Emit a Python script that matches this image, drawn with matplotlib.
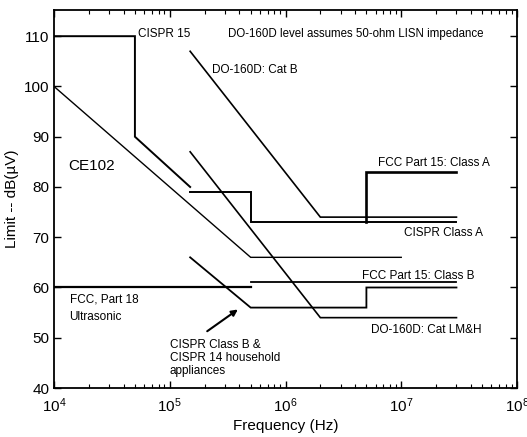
import matplotlib
matplotlib.use("Agg")
import matplotlib.pyplot as plt
from matplotlib.ticker import LogLocator, NullFormatter, FixedLocator

plt.rcParams['font.family'] = ['Liberation Sans', 'DejaVu Sans']
plt.rcParams['mathtext.fontset'] = 'custom'
plt.rcParams['mathtext.rm'] = 'Liberation Sans'
plt.rcParams['mathtext.it'] = 'Liberation Sans'

# ---- data (frequency in Hz, limit in dB(uV)) ----
cispr15_f = [1e4, 5e4, 5e4, 1.5e5]
cispr15_db = [110, 110, 90, 80]

ce102_f = [1e4, 5e5, 1e7]
ce102_db = [100, 66, 66]

do160b_f = [1.5e5, 2e6, 3e7]
do160b_db = [107, 74, 74]

do160lmh_f = [1.5e5, 2e6, 3e7]
do160lmh_db = [87, 54, 54]

cispr_a_f = [1.5e5, 5e5, 5e5, 3e7]
cispr_a_db = [79, 79, 73, 73]

fcc15a_f = [5e6, 5e6, 3e7]
fcc15a_db = [73, 83, 83]

cispr_b_f = [1.5e5, 5e5, 5e6, 5e6, 3e7]
cispr_b_db = [66, 56, 56, 60, 60]

fcc18_f = [1e4, 5e5]
fcc18_db = [60, 60]

fcc15b_f = [5e5, 3e7]
fcc15b_db = [61, 61]

y_ticks = [40, 50, 60, 70, 80, 90, 100, 110]

fig = plt.figure(figsize=(5.27, 4.37), dpi=100)
ax = fig.add_axes([0.1025, 0.1121, 0.8785, 0.8649])

series = [
    (cispr15_f, cispr15_db, 1.4),
    (ce102_f, ce102_db, 1.0),
    (do160b_f, do160b_db, 1.2),
    (do160lmh_f, do160lmh_db, 1.2),
    (cispr_a_f, cispr_a_db, 1.4),
    (fcc15a_f, fcc15a_db, 1.9),
    (cispr_b_f, cispr_b_db, 1.3),
    (fcc18_f, fcc18_db, 1.6),
    (fcc15b_f, fcc15b_db, 1.3),
]
for f, d, lw in series:
    ax.plot(f, d, color='black', lw=lw, solid_joinstyle='miter')

ax.set_xscale('log')
ax.set_xlim(1e4, 1e8)
ax.set_ylim(40, 115.2)
ax.yaxis.set_major_locator(FixedLocator(y_ticks))
ax.xaxis.set_major_locator(LogLocator(base=10, numticks=10))
ax.xaxis.set_minor_locator(LogLocator(base=10, subs=range(2, 10), numticks=50))
ax.xaxis.set_minor_formatter(NullFormatter())

ax.tick_params(which='both', direction='in', top=True, right=True, labelsize=11)
ax.tick_params(which='major', length=5, width=1)
ax.tick_params(which='minor', length=3, width=0.8)
ax.tick_params(axis='x', which='major', pad=6)
for s in ax.spines.values():
    s.set_linewidth(1.3)

ax.set_xlabel('Frequency (Hz)', fontsize=11, labelpad=3)
ax.set_ylabel('Limit -- dB(\u00b5V)', fontsize=11, labelpad=3)

fs = 8.5
T = ax.transAxes
ax.text(0.181, 0.937, 'CISPR 15', transform=T, fontsize=fs, va='center')
ax.text(0.376, 0.937, 'DO-160D level assumes 50-ohm LISN impedance', transform=T, fontsize=8.3, va='center')
ax.text(0.341, 0.841, 'DO-160D: Cat B', transform=T, fontsize=fs, va='center')
ax.text(0.030, 0.587, 'CE102', transform=T, fontsize=11, va='center')
ax.text(0.700, 0.595, 'FCC Part 15: Class A', transform=T, fontsize=fs, va='center')
ax.text(0.756, 0.410, 'CISPR Class A', transform=T, fontsize=fs, va='center')
ax.text(0.665, 0.296, 'FCC Part 15: Class B', transform=T, fontsize=fs, va='center')
ax.text(0.685, 0.153, 'DO-160D: Cat LM&H', transform=T, fontsize=fs, va='center')
ax.text(0.035, 0.233, 'FCC, Part 18', transform=T, fontsize=fs, va='center')
ax.text(0.033, 0.188, 'Ultrasonic', transform=T, fontsize=fs, va='center')
ax.text(0.250, 0.130, 'CISPR Class B &\nCISPR 14 household\nappliances', transform=T,
        fontsize=fs, va='top', linespacing=1.1)
ax.annotate('', xy=(0.402, 0.212), xytext=(0.326, 0.146), xycoords=T, textcoords=T,
            arrowprops=dict(arrowstyle='-|>', color='black', lw=1.5, mutation_scale=9))

fig.savefig('out.png', dpi=100)
